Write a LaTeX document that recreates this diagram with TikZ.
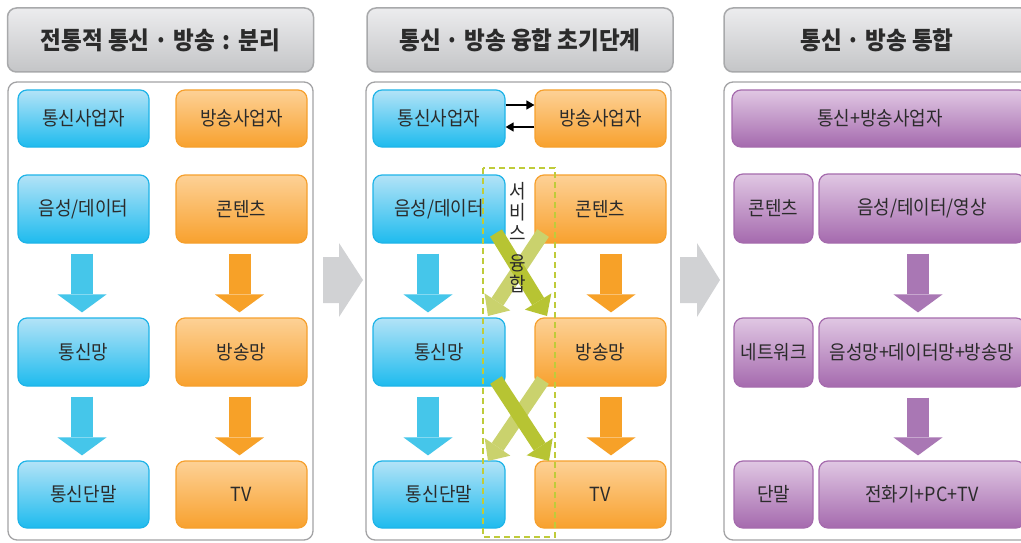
\documentclass[tikz,border=0pt]{standalone}
\usepackage{fontspec}
\setmainfont{Noto Sans CJK KR}[FakeStretch=0.92]
\usetikzlibrary{arrows.meta}
\newcommand{\mdot}{\hspace{5pt}·\hspace{5pt}}
\newcommand{\mcolon}{\hspace{8pt}:\hspace{8pt}}
\definecolor{txt}{HTML}{2B2B2B}
\definecolor{hdrT}{HTML}{ECECEE}
\definecolor{hdrBot}{HTML}{C4C5C7}
\definecolor{hdrB}{HTML}{A8A9AB}
\definecolor{panB}{HTML}{A3A3A5}
\definecolor{bluT}{HTML}{B3E3F7}
\definecolor{bluBot}{HTML}{1EBBEE}
\definecolor{bluB}{HTML}{1FB4E8}
\definecolor{orT}{HTML}{FDD196}
\definecolor{orBot}{HTML}{F8A12E}
\definecolor{orB}{HTML}{F6A02D}
\definecolor{puT}{HTML}{E0C7E3}
\definecolor{puBot}{HTML}{A56AAE}
\definecolor{puB}{HTML}{A56BAD}
\definecolor{bluA}{HTML}{45C6EA}
\definecolor{orA}{HTML}{F7A128}
\definecolor{puA}{HTML}{A977B4}
\definecolor{chev}{HTML}{D1D2D4}
\definecolor{grD}{HTML}{B7C433}
\definecolor{grL}{HTML}{CAD26D}
\definecolor{grDash}{HTML}{BFCB3A}
\begin{document}
\begin{tikzpicture}[x=1pt,y=-1pt,
  hdr/.style={draw=hdrB, line width=1.5pt, rounded corners=9pt, top color=hdrT, bottom color=hdrBot,
    text=txt, font=\fontsize{24.5}{27}\selectfont\bfseries, minimum width=306pt, minimum height=64pt, inner sep=0pt},
  panel/.style={draw=panB, line width=1.3pt, rounded corners=9pt, fill=white},
  boxbase/.style={line width=1.2pt, rounded corners=9pt, text=txt, font=\fontsize{19.5}{22}\selectfont, inner sep=0pt},
  bbox/.style={boxbase, draw=bluB, top color=bluT, bottom color=bluBot},
  obox/.style={boxbase, draw=orB, top color=orT, bottom color=orBot},
  pbox/.style={boxbase, draw=puB, top color=puT, bottom color=puBot},
  fat/.style={line width=22pt, shorten <=10pt, shorten >=5pt, -{Triangle[length=18pt,width=49pt,line width=0pt]}},
  xarr/.style={line width=14pt, -{Triangle[length=17pt,width=31pt,line width=0pt]}},
  small/.style={line width=1.4pt, -{Triangle[length=8pt,width=9pt]}},
  vtext/.style={text=txt, font=\fontsize{19.5}{21}\selectfont, align=center, inner sep=0pt}
]
\useasboundingbox (0,0) rectangle (1021,543);

% headers
\node[hdr] (h1) at (160.5,40) {전통적 통신\mdot 방송\mcolon 분리};
\node[hdr] (h2) at (520,40) {통신\mdot 방송 융합 초기단계};
\node[hdr] (h3) at (877,40) {통신\mdot 방송 통합};

% panels
\draw[panel] (8,82) rectangle (313,540);
\draw[panel] (366,82) rectangle (671,540);
\draw[panel] (724,82) rectangle (1032,540);

% chevrons
\fill[chev] (323,257) -- (339,257) -- (339,243) -- (363,280) -- (339,317) -- (339,303) -- (323,303) -- cycle;
\fill[chev] (680,257) -- (697,257) -- (697,243) -- (720,280) -- (697,317) -- (697,303) -- (680,303) -- cycle;

% left panel
\node[bbox, minimum width=131pt, minimum height=57pt] (lb1) at (83.5,118.5) {통신사업자};
\node[bbox, minimum width=131pt, minimum height=68pt] (lb2) at (83.5,209) {음성/데이터};
\node[bbox, minimum width=131pt, minimum height=68pt] (lb3) at (83.5,352) {통신망};
\node[bbox, minimum width=131pt, minimum height=67pt] (lb4) at (83.5,494.5) {통신단말};
\node[obox, minimum width=131pt, minimum height=57pt] (lo1) at (241.5,118.5) {방송사업자};
\node[obox, minimum width=131pt, minimum height=68pt] (lo2) at (241.5,209) {콘텐츠};
\node[obox, minimum width=131pt, minimum height=68pt] (lo3) at (241.5,352) {방송망};
\node[obox, minimum width=131pt, minimum height=67pt] (lo4) at (241.5,494.5) {TV};
\draw[fat, bluA] ([xshift=-1.5pt]lb2.south) -- ([xshift=-1.5pt]lb3.north);
\draw[fat, bluA] ([xshift=-1.5pt]lb3.south) -- ([xshift=-1.5pt]lb4.north);
\draw[fat, orA] ([xshift=-2pt]lo2.south) -- ([xshift=-2pt]lo3.north);
\draw[fat, orA] ([xshift=-2pt]lo3.south) -- ([xshift=-2pt]lo4.north);

% middle panel
\node[bbox, minimum width=132pt, minimum height=57pt] (mb1) at (439,118.5) {통신사업자};
\node[bbox, minimum width=132pt, minimum height=68pt] (mb2) at (439,209) {음성/데이터};
\node[bbox, minimum width=132pt, minimum height=68pt] (mb3) at (439,352) {통신망};
\node[bbox, minimum width=132pt, minimum height=67pt] (mb4) at (439,494.5) {통신단말};
\node[obox, minimum width=131pt, minimum height=57pt] (mo1) at (600.5,118.5) {방송사업자};
\node[obox, minimum width=131pt, minimum height=68pt] (mo2) at (600.5,209) {콘텐츠};
\node[obox, minimum width=131pt, minimum height=68pt] (mo3) at (600.5,352) {방송망};
\node[obox, minimum width=131pt, minimum height=67pt] (mo4) at (600.5,494.5) {TV};
\draw[small] ([yshift=13.5pt]mb1.east) -- ([yshift=13.5pt]mo1.west);
\draw[small] ([yshift=-8.5pt]mo1.west) -- ([yshift=-8.5pt]mb1.east);
\draw[fat, bluA] ([xshift=-11pt]mb2.south) -- ([xshift=-11pt]mb3.north);
\draw[fat, bluA] ([xshift=-11pt]mb3.south) -- ([xshift=-11pt]mb4.north);
\draw[fat, orA] ([xshift=10.5pt]mo2.south) -- ([xshift=10.5pt]mo3.north);
\draw[fat, orA] ([xshift=10.5pt]mo3.south) -- ([xshift=10.5pt]mo4.north);

% service convergence crossing arrows
\coordinate (xa1) at (496,233);
\coordinate (xa2) at (547,316);
\coordinate (xb1) at (543,233);
\coordinate (xb2) at (488,316);
\coordinate (xc1) at (496,380);
\coordinate (xc2) at (549,461);
\coordinate (xd1) at (543,380);
\coordinate (xd2) at (488,461);
\draw[xarr, grL] (xb1) -- (xb2);
\draw[xarr, grD] (xa1) -- (xa2);
\draw[xarr, grL] (xd1) -- (xd2);
\draw[xarr, grD] (xc1) -- (xc2);
\draw[grDash, line width=1.5pt, dash pattern=on 6pt off 4pt] (483,168) rectangle (555,537);
\node[vtext] (sv1) at (518,211) {서\\비\\스};
\node[vtext] (sv2) at (518,274) {융\\합};

% right panel
\node[pbox, minimum width=296pt, minimum height=57pt] (r1) at (880,118.5) {통신+방송사업자};
\node[pbox, minimum width=79pt, minimum height=69pt] (rs2) at (773.5,208.5) {콘텐츠};
\node[pbox, minimum width=79pt, minimum height=69pt] (rs3) at (773.5,352.5) {네트워크};
\node[pbox, minimum width=79pt, minimum height=67pt] (rs4) at (773.5,494.5) {단말};
\node[pbox, minimum width=206pt, minimum height=69pt] (rb2) at (922,208.5) {음성/테이터/영상};
\node[pbox, minimum width=206pt, minimum height=69pt] (rb3) at (922,352.5) {음성망+데이터망+방송망};
\node[pbox, minimum width=206pt, minimum height=67pt] (rb4) at (922,494.5) {전화기+PC+TV};
\draw[fat, puA] ([xshift=-4pt]rb2.south) -- ([xshift=-4pt]rb3.north);
\draw[fat, puA] ([xshift=-4pt]rb3.south) -- ([xshift=-4pt]rb4.north);
\end{tikzpicture}
\end{document}
